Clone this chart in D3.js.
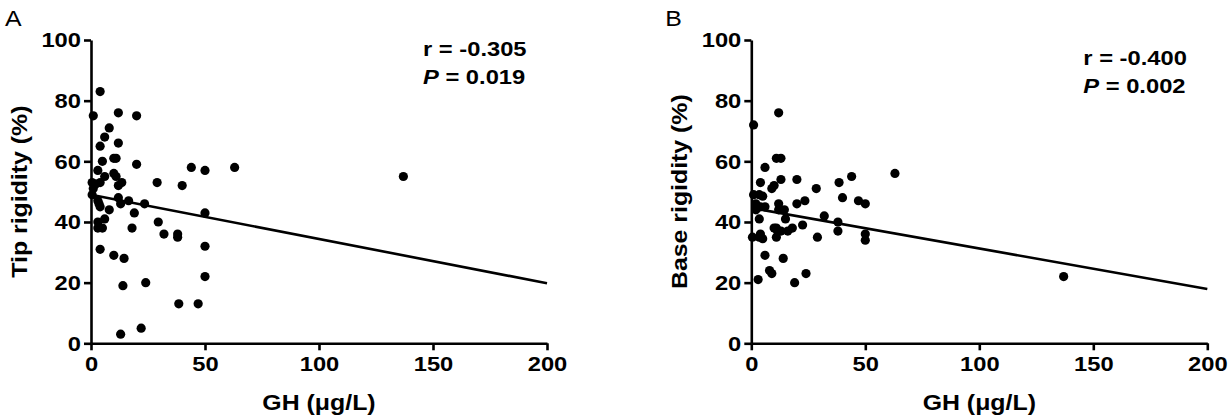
<!DOCTYPE html>
<html>
<head>
<meta charset="utf-8">
<script src="https://cdn.jsdelivr.net/npm/d3@7"></script>
<style>
  html, body { margin: 0; padding: 0; background: #fff; }
  svg { display: block; font-family: "Liberation Sans", Arial, sans-serif; }
  .axis path, .axis line { stroke: #000; stroke-width: 2.6; }
  .axis text { font-size: 21px; font-weight: bold; fill: #000; }
</style>
</head>
<body>
<div id="viz"></div>
<script>
// GH (µg/L) vs tip rigidity (%), panel A
const tipPoints = [
  [4, 83], [1, 75], [12, 76], [20, 75], [8, 71], [6, 68], [12, 66], [4, 65],
  [10, 61], [11, 61], [5, 60], [20, 59], [3, 57], [10, 56], [11, 55], [6, 55],
  [44, 58], [50, 57], [63, 58], [4, 53], [0.5, 53], [2, 52.5], [1, 51], [13.5, 53],
  [12, 52], [29, 53], [40, 52], [0.5, 49], [3, 47], [3.5, 46], [12, 48], [16.5, 47],
  [13, 46], [23.5, 46], [4, 45], [8, 44], [19, 43], [50, 43], [6, 41], [3, 40],
  [3, 38], [5, 38], [18, 38], [29.5, 40], [32, 36], [38, 36], [38, 35], [50, 32],
  [4, 31], [10, 29], [14.5, 28], [50, 22], [24, 20], [14, 19], [38.5, 13], [47, 13],
  [22, 5], [13, 3], [137, 55]
];

// GH (µg/L) vs base rigidity (%), panel B
const basePoints = [
  [12, 76], [1, 72], [11, 61], [13, 61], [6, 58], [63, 56], [44, 55], [4, 53],
  [13, 54], [20, 54], [38.5, 53], [10, 52], [9, 51], [28.5, 51], [1, 49], [3.5, 49],
  [5, 48.5], [40, 48], [47, 47], [50, 46], [23.5, 47], [20, 46], [12, 46], [2, 46],
  [4, 45], [6, 45], [2, 44], [14.5, 44], [12, 44], [32, 42], [3.5, 41], [15, 41],
  [38, 40], [22.5, 39], [10, 38], [11, 38], [18, 38], [16, 37], [13, 37], [11.5, 37],
  [38, 37], [50, 36], [50, 34], [0.5, 35], [3.5, 35], [5, 34.5], [4, 36], [11, 35],
  [29, 35], [6, 29], [14, 28], [8, 24], [9, 23], [24, 23], [3, 21], [19, 20],
  [137, 22]
];

// regression lines, read at GH = 0 and GH = 200
const fitA = [[0, 49.0], [200, 19.8]];
const fitB = [[0, 44.6], [200, 17.9]];

const xTicks = [0, 50, 100, 150, 200];
const yTicks = [0, 20, 40, 60, 80, 100];

const panels = [
  { label: "A", yTitle: "Tip rigidity (%)", points: tipPoints, fit: fitA, r: "-0.305", p: "0.019", dx: 0, statY: 56 },
  { label: "B", yTitle: "Base rigidity (%)", points: basePoints, fit: fitB, r: "-0.400", p: "0.002", dx: 660.3, statY: 65 }
];

const W = 1228, H = 418;
const STRETCH = 1.13;

const svg = d3.select("#viz").append("svg").attr("width", W).attr("height", H);

const x = d3.scaleLinear().domain([0, 200]).range([91, 547]);
const y = d3.scaleLinear().domain([0, 100]).range([343.3, 40]);

panels.forEach((pn) => {
  const g = svg.append("g").attr("transform", `translate(${pn.dx},0)`);

  g.append("text")
    .attr("x", 5).attr("y", 26)
    .attr("font-size", 22)
    .text(pn.label);

  const ax = g.append("g").attr("class", "axis")
    .attr("transform", `translate(0,${y(0)})`)
    .call(d3.axisBottom(x).tickValues(xTicks).tickSize(7).tickSizeOuter(0).tickPadding(6));
  ax.selectAll("text").attr("dy", "0.71em");

  g.append("g").attr("class", "axis")
    .attr("transform", `translate(${x(0)},0)`)
    .call(d3.axisLeft(y).tickValues(yTicks).tickSize(7).tickSizeOuter(0).tickPadding(3));

  g.append("text")
    .attr("x", (x(0) + x(200)) / 2).attr("y", 410)
    .attr("text-anchor", "middle")
    .attr("font-size", 22).attr("font-weight", "bold")
    .text("GH (μg/L)");

  g.append("text")
    .attr("transform", `translate(27,${(y(0) + y(100)) / 2}) rotate(-90)`)
    .attr("text-anchor", "middle")
    .attr("font-size", 22).attr("font-weight", "bold")
    .text(pn.yTitle);

  g.append("path")
    .attr("d", d3.line().x((d) => x(d[0])).y((d) => y(d[1]))(pn.fit))
    .attr("fill", "none").attr("stroke", "#000").attr("stroke-width", 2.6);

  g.append("g").selectAll("circle")
    .data(pn.points)
    .join("circle")
    .attr("cx", (d) => x(d[0]))
    .attr("cy", (d) => y(d[1]))
    .attr("r", 4.6)
    .attr("fill", "#000");

  g.append("text")
    .attr("x", 423).attr("y", pn.statY)
    .attr("font-size", 21).attr("font-weight", "bold")
    .text(`r = ${pn.r}`);

  const pt = g.append("text")
    .attr("x", 423).attr("y", pn.statY + 28)
    .attr("font-size", 21).attr("font-weight", "bold");
  pt.append("tspan").attr("font-style", "italic").text("P");
  pt.append("tspan").text(` = ${pn.p}`);
});

// the original type is set a little wider than Arial
svg.selectAll("text").each(function () {
  const len = this.getComputedTextLength();
  d3.select(this).attr("textLength", len * STRETCH).attr("lengthAdjust", "spacingAndGlyphs");
});
</script>
</body>
</html>
